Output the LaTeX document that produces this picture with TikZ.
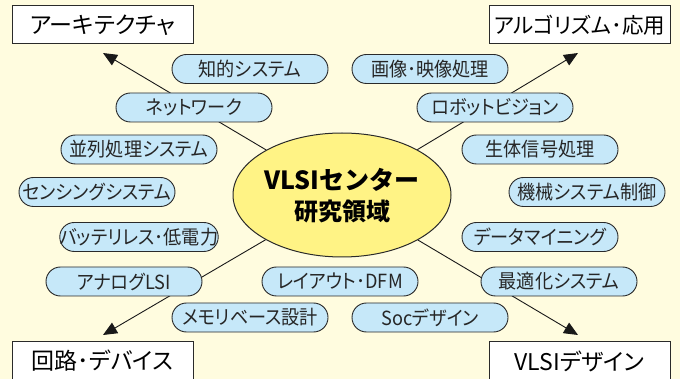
\documentclass[tikz,border=0pt]{standalone}
\usepackage{fontspec}
\setmainfont{Noto Sans CJK JP}
\newfontfamily\pfont{Noto Sans CJK JP}[RawFeature=+palt]
\newfontfamily\qfont{Noto Sans CJK JP}[RawFeature=+palt,FakeStretch=0.93]
\usetikzlibrary{arrows.meta,shapes.geometric}
\definecolor{bgc}{HTML}{FFFCDF}
\definecolor{pillc}{HTML}{C6E8F9}
\definecolor{ellc}{HTML}{FFF385}
\definecolor{edgec}{HTML}{2A2A2A}
\begin{document}
\begin{tikzpicture}[x=1pt,y=-1pt,
  pill/.style={draw=edgec,line width=0.9pt,fill=pillc,rounded corners=14.5pt,
    minimum width=156pt,minimum height=29pt,inner sep=0pt,
    font=\qfont\fontsize{19.5}{21}\selectfont,text=black!85},
  corner/.style={draw=edgec,line width=1pt,fill=white,
    minimum width=181pt,minimum height=38pt,inner sep=0pt,
    font=\pfont\fontsize{23}{25}\selectfont},
  conn/.style={line width=0.9pt,draw=black!90,-{Triangle[length=14pt,width=12pt]}}]
\fill[bgc] (0,0) rectangle (680,379);
\useasboundingbox (0,0) rectangle (680,379);
% corner boxes
\node[corner] (arch) at (102.5,25) {アーキテクチャ};
\node[corner,font=\pfont\fontsize{21.5}{24}\selectfont] (algo) at (579.5,25) {アルゴリズム･応用};
\node[corner,minimum height=40pt] (dev) at (102.5,361) {回路･デバイス};
\node[corner,minimum height=40pt] (vlsi) at (579.5,361) {VLSIデザイン};
% arrow tips
\coordinate (tl) at (103,53);
\coordinate (tr) at (578,53);
\coordinate (bl) at (103,335);
\coordinate (br) at (578,335);
% center
\node[ellipse,draw=edgec,line width=1pt,fill=ellc,minimum width=218pt,minimum height=124pt,inner sep=0pt] (c) at (342,195) {};
\draw[conn] (c) -- (tl);
\draw[conn] (c) -- (tr);
\draw[conn] (c) -- (bl);
\draw[conn] (c) -- (br);
\node[font=\fontsize{25}{28}\selectfont\bfseries] (t1) at (342,180) {VLSIセンター};
\node[font=\fontsize{24}{28}\selectfont\bfseries] (t2) at (342,211) {研究領域};
% pills
\node[pill] (p1) at (250,69) {知的システム};
\node[pill] (p2) at (194,107.5) {ネットワーク};
\node[pill] (p3) at (139,149.5) {並列処理システム};
\node[pill] (p4) at (97,192) {センシングシステム};
\node[pill] (p5) at (139,237) {バッテリレス･低電力};
\node[pill] (p6) at (124,281.5) {アナログLSI};
\node[pill] (p7) at (250,317.5) {メモリベース設計};
\node[pill] (p8) at (340,281.5) {レイアウト･DFM};
\node[pill] (p9) at (430,317.5) {Socデザイン};
\node[pill] (p10) at (430,69) {画像･映像処理};
\node[pill] (p11) at (495,107.5) {ロボットビジョン};
\node[pill] (p12) at (540,149.5) {生体信号処理};
\node[pill] (p13) at (587,192) {機械システム制御};
\node[pill] (p14) at (540,237) {データマイニング};
\node[pill] (p15) at (559,281.5) {最適化システム};
\end{tikzpicture}
\end{document}
